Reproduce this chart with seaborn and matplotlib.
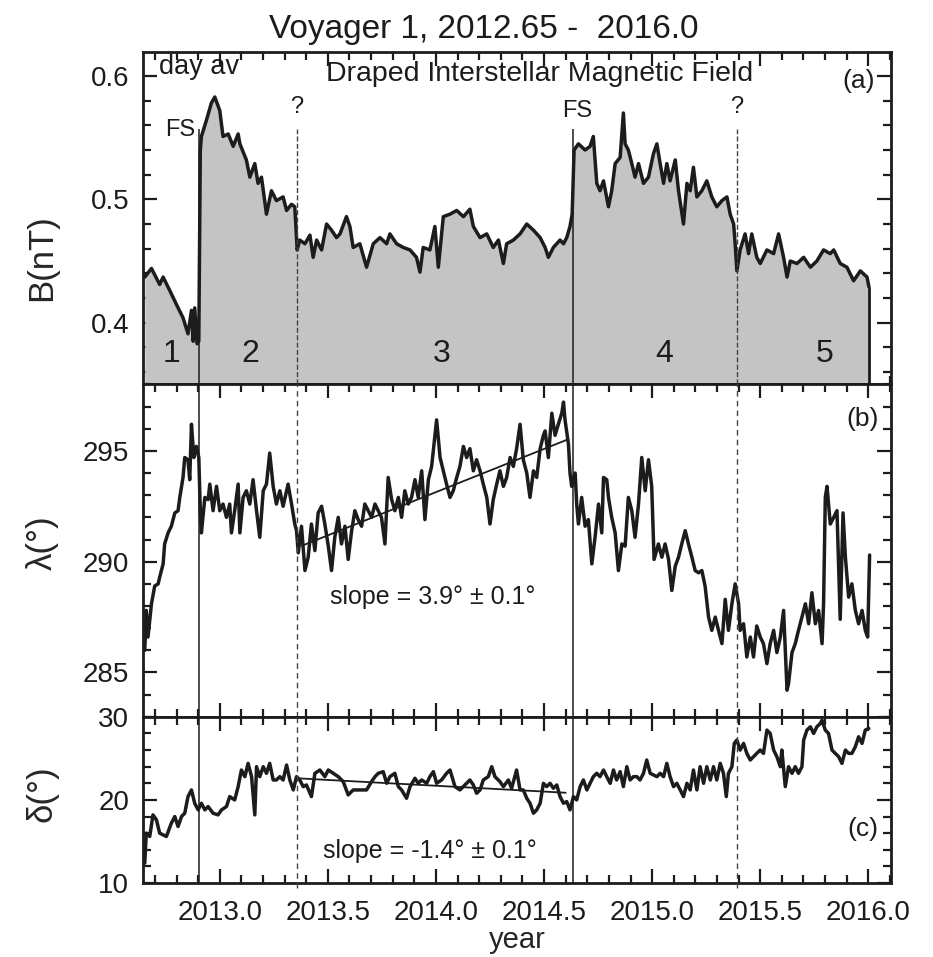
import numpy as np
import matplotlib
matplotlib.use("Agg")
import matplotlib.pyplot as plt
from matplotlib.ticker import MultipleLocator, FormatStrFormatter
import seaborn as sns

# ---------------- data: daily averages, Voyager 1 ----------------
# (a) magnetic field strength B (nT)
b_year = [
    2012.653, 2012.684, 2012.722, 2012.738, 2012.769, 2012.799, 2012.830, 2012.853,
    2012.869, 2012.877, 2012.884, 2012.895, 2012.903, 2012.910, 2012.915, 2012.938,
    2012.961, 2012.977, 2013.000, 2013.015, 2013.039, 2013.062, 2013.085, 2013.093,
    2013.123, 2013.139, 2013.162, 2013.177, 2013.193, 2013.216, 2013.239, 2013.262,
    2013.293, 2013.309, 2013.332, 2013.347, 2013.358, 2013.370, 2013.394, 2013.417,
    2013.432, 2013.448, 2013.471, 2013.494, 2013.517, 2013.540, 2013.556, 2013.586,
    2013.602, 2013.617, 2013.648, 2013.679, 2013.710, 2013.741, 2013.772, 2013.787,
    2013.818, 2013.849, 2013.880, 2013.910, 2013.926, 2013.941, 2013.972, 2013.995,
    2014.011, 2014.034, 2014.065, 2014.096, 2014.127, 2014.157, 2014.173, 2014.204,
    2014.235, 2014.265, 2014.289, 2014.312, 2014.327, 2014.358, 2014.389, 2014.420,
    2014.451, 2014.482, 2014.505, 2014.520, 2014.543, 2014.574, 2014.590, 2014.605,
    2014.620, 2014.630, 2014.639, 2014.659, 2014.690, 2014.713, 2014.728, 2014.744,
    2014.759, 2014.775, 2014.798, 2014.813, 2014.829, 2014.852, 2014.867, 2014.875,
    2014.890, 2014.906, 2014.921, 2014.937, 2014.960, 2014.983, 2015.006, 2015.022,
    2015.037, 2015.053, 2015.068, 2015.083, 2015.107, 2015.122, 2015.145, 2015.161,
    2015.176, 2015.191, 2015.207, 2015.230, 2015.253, 2015.276, 2015.299, 2015.323,
    2015.346, 2015.361, 2015.377, 2015.384, 2015.392, 2015.407, 2015.430, 2015.446,
    2015.461, 2015.484, 2015.500, 2015.531, 2015.562, 2015.585, 2015.608, 2015.624,
    2015.639, 2015.670, 2015.701, 2015.732, 2015.762, 2015.793, 2015.824, 2015.840,
    2015.870, 2015.901, 2015.932, 2015.963, 2015.994, 2016.003,
]
b_nt = [
    0.437, 0.444, 0.431, 0.437, 0.426, 0.415, 0.404, 0.391,
    0.410, 0.385, 0.412, 0.383, 0.385, 0.540, 0.551, 0.564,
    0.578, 0.583, 0.572, 0.551, 0.553, 0.543, 0.553, 0.545,
    0.532, 0.518, 0.529, 0.513, 0.518, 0.488, 0.507, 0.499,
    0.502, 0.491, 0.496, 0.494, 0.459, 0.467, 0.464, 0.471,
    0.453, 0.467, 0.459, 0.480, 0.475, 0.469, 0.472, 0.486,
    0.478, 0.461, 0.464, 0.445, 0.464, 0.469, 0.464, 0.472,
    0.464, 0.461, 0.459, 0.453, 0.441, 0.461, 0.459, 0.478,
    0.445, 0.486, 0.488, 0.491, 0.486, 0.492, 0.478, 0.469,
    0.472, 0.461, 0.467, 0.448, 0.464, 0.467, 0.472, 0.480,
    0.475, 0.469, 0.461, 0.453, 0.461, 0.467, 0.464, 0.469,
    0.478, 0.488, 0.540, 0.545, 0.540, 0.543, 0.551, 0.513,
    0.507, 0.515, 0.494, 0.507, 0.529, 0.534, 0.570, 0.545,
    0.540, 0.529, 0.518, 0.529, 0.513, 0.518, 0.537, 0.545,
    0.529, 0.513, 0.529, 0.515, 0.532, 0.507, 0.480, 0.513,
    0.507, 0.526, 0.502, 0.507, 0.515, 0.502, 0.494, 0.499,
    0.502, 0.488, 0.480, 0.464, 0.442, 0.459, 0.472, 0.456,
    0.472, 0.453, 0.448, 0.459, 0.456, 0.472, 0.453, 0.437,
    0.450, 0.448, 0.453, 0.445, 0.450, 0.459, 0.456, 0.459,
    0.448, 0.445, 0.434, 0.442, 0.437, 0.429,
]

# (b) azimuth angle lambda (deg)
lam_year = [
    2012.653, 2012.660, 2012.668, 2012.684, 2012.699, 2012.715, 2012.722, 2012.738,
    2012.745, 2012.761, 2012.776, 2012.792, 2012.807, 2012.815, 2012.830, 2012.838,
    2012.853, 2012.861, 2012.869, 2012.880, 2012.892, 2012.903, 2012.910, 2012.915,
    2012.931, 2012.946, 2012.954, 2012.969, 2012.985, 2013.000, 2013.015, 2013.031,
    2013.046, 2013.054, 2013.069, 2013.085, 2013.093, 2013.108, 2013.123, 2013.139,
    2013.154, 2013.170, 2013.185, 2013.201, 2013.216, 2013.231, 2013.247, 2013.262,
    2013.278, 2013.293, 2013.316, 2013.332, 2013.347, 2013.355, 2013.363, 2013.378,
    2013.394, 2013.409, 2013.424, 2013.440, 2013.455, 2013.471, 2013.486, 2013.502,
    2013.517, 2013.532, 2013.548, 2013.563, 2013.579, 2013.594, 2013.610, 2013.625,
    2013.640, 2013.656, 2013.671, 2013.687, 2013.702, 2013.718, 2013.733, 2013.748,
    2013.764, 2013.779, 2013.795, 2013.810, 2013.826, 2013.841, 2013.856, 2013.872,
    2013.887, 2013.903, 2013.918, 2013.934, 2013.949, 2013.965, 2013.980, 2014.003,
    2014.019, 2014.034, 2014.049, 2014.065, 2014.080, 2014.096, 2014.111, 2014.127,
    2014.142, 2014.157, 2014.173, 2014.188, 2014.204, 2014.219, 2014.235, 2014.250,
    2014.265, 2014.281, 2014.296, 2014.312, 2014.327, 2014.343, 2014.358, 2014.373,
    2014.389, 2014.404, 2014.420, 2014.435, 2014.451, 2014.466, 2014.482, 2014.497,
    2014.505, 2014.520, 2014.536, 2014.551, 2014.566, 2014.582, 2014.590, 2014.597,
    2014.613, 2014.620, 2014.628, 2014.644, 2014.651, 2014.659, 2014.674, 2014.690,
    2014.705, 2014.721, 2014.736, 2014.752, 2014.767, 2014.775, 2014.790, 2014.798,
    2014.813, 2014.829, 2014.844, 2014.860, 2014.875, 2014.890, 2014.906, 2014.921,
    2014.937, 2014.952, 2014.968, 2014.983, 2014.998, 2015.009, 2015.029, 2015.045,
    2015.060, 2015.076, 2015.091, 2015.107, 2015.122, 2015.137, 2015.153, 2015.168,
    2015.184, 2015.199, 2015.215, 2015.230, 2015.245, 2015.261, 2015.276, 2015.292,
    2015.307, 2015.323, 2015.338, 2015.353, 2015.369, 2015.384, 2015.400, 2015.407,
    2015.423, 2015.438, 2015.454, 2015.469, 2015.484, 2015.500, 2015.515, 2015.531,
    2015.546, 2015.562, 2015.577, 2015.593, 2015.608, 2015.624, 2015.631, 2015.647,
    2015.662, 2015.677, 2015.693, 2015.709, 2015.724, 2015.739, 2015.755, 2015.770,
    2015.786, 2015.793, 2015.801, 2015.809, 2015.824, 2015.840, 2015.855, 2015.870,
    2015.883, 2015.894, 2015.909, 2015.924, 2015.940, 2015.955, 2015.971, 2015.986,
    2015.997, 2016.006,
]
lam_deg = [
    286.0, 287.8, 286.6, 288.1, 288.9, 289.0, 289.3, 289.9,
    290.8, 291.3, 291.6, 292.2, 292.3, 292.9, 293.8, 294.7,
    294.6, 293.7, 296.2, 294.7, 295.2, 294.7, 292.3, 291.3,
    292.9, 292.8, 293.5, 292.3, 293.4, 292.3, 292.6, 292.0,
    292.6, 291.3, 292.3, 293.5, 291.3, 292.9, 293.2, 292.6,
    293.7, 292.3, 291.1, 293.2, 293.5, 294.9, 293.4, 292.6,
    293.2, 292.5, 293.5, 292.6, 291.7, 291.4, 290.4, 291.6,
    289.6, 290.2, 291.7, 290.5, 292.2, 292.5, 291.7, 290.7,
    289.6, 291.1, 292.0, 290.8, 291.6, 290.1, 291.4, 292.3,
    291.9, 291.6, 292.6, 292.3, 292.0, 292.6, 292.3, 292.0,
    290.8, 293.8, 292.8, 292.3, 292.9, 292.0, 293.2, 292.6,
    292.9, 293.7, 292.9, 294.1, 291.9, 293.7, 294.3, 296.4,
    294.7, 294.1, 293.5, 292.9, 293.2, 293.8, 294.3, 295.2,
    294.7, 295.1, 294.1, 294.6, 294.1, 293.5, 292.9, 291.7,
    292.8, 293.5, 294.1, 293.4, 293.8, 294.7, 294.3, 295.1,
    296.2, 294.6, 294.0, 292.9, 294.1, 293.8, 295.1, 295.7,
    295.9, 294.7, 296.7, 295.7, 296.2, 296.7, 297.2, 296.4,
    295.3, 294.0, 293.4, 294.0, 292.6, 291.7, 292.9, 291.6,
    291.9, 289.9, 291.1, 292.6, 291.3, 293.8, 293.7, 292.9,
    292.0, 291.3, 289.6, 290.8, 290.7, 292.9, 292.3, 291.1,
    292.6, 294.7, 293.2, 294.6, 293.4, 290.1, 290.8, 290.2,
    290.8, 290.1, 288.7, 289.8, 290.2, 290.8, 291.4, 290.8,
    290.2, 289.6, 289.5, 289.6, 288.9, 287.5, 286.9, 287.5,
    286.9, 286.3, 288.3, 286.9, 288.1, 289.0, 288.1, 286.9,
    287.2, 285.7, 286.6, 285.7, 287.1, 286.6, 286.3, 285.4,
    286.3, 286.9, 285.9, 286.6, 287.8, 284.2, 284.5, 285.9,
    286.3, 286.9, 287.5, 288.1, 287.2, 288.6, 287.2, 287.8,
    286.3, 288.1, 292.9, 293.4, 291.7, 292.0, 292.3, 287.4,
    292.2, 290.2, 288.4, 289.0, 287.8, 287.2, 287.8, 286.9,
    286.6, 290.3,
]

# (c) elevation angle delta (deg)
del_year = [
    2012.653, 2012.660, 2012.676, 2012.691, 2012.707, 2012.722, 2012.738, 2012.753,
    2012.776, 2012.792, 2012.807, 2012.823, 2012.838, 2012.853, 2012.869, 2012.884,
    2012.900, 2012.915, 2012.931, 2012.946, 2012.969, 2012.992, 2013.008, 2013.031,
    2013.046, 2013.069, 2013.085, 2013.100, 2013.116, 2013.131, 2013.147, 2013.162,
    2013.170, 2013.185, 2013.201, 2013.216, 2013.231, 2013.247, 2013.262, 2013.278,
    2013.293, 2013.309, 2013.324, 2013.340, 2013.355, 2013.370, 2013.386, 2013.401,
    2013.424, 2013.440, 2013.463, 2013.486, 2013.502, 2013.525, 2013.548, 2013.571,
    2013.594, 2013.617, 2013.648, 2013.679, 2013.702, 2013.718, 2013.733, 2013.756,
    2013.772, 2013.787, 2013.810, 2013.826, 2013.841, 2013.864, 2013.880, 2013.903,
    2013.918, 2013.934, 2013.957, 2013.972, 2013.988, 2014.003, 2014.026, 2014.049,
    2014.065, 2014.088, 2014.111, 2014.134, 2014.157, 2014.173, 2014.188, 2014.204,
    2014.219, 2014.242, 2014.258, 2014.273, 2014.296, 2014.312, 2014.335, 2014.350,
    2014.373, 2014.389, 2014.404, 2014.420, 2014.435, 2014.451, 2014.466, 2014.482,
    2014.497, 2014.512, 2014.528, 2014.543, 2014.559, 2014.574, 2014.590, 2014.605,
    2014.620, 2014.636, 2014.651, 2014.667, 2014.682, 2014.698, 2014.713, 2014.728,
    2014.744, 2014.759, 2014.775, 2014.790, 2014.806, 2014.821, 2014.836, 2014.852,
    2014.867, 2014.883, 2014.898, 2014.914, 2014.929, 2014.944, 2014.960, 2014.975,
    2014.991, 2015.006, 2015.022, 2015.037, 2015.053, 2015.068, 2015.083, 2015.099,
    2015.114, 2015.130, 2015.145, 2015.161, 2015.176, 2015.191, 2015.207, 2015.222,
    2015.238, 2015.253, 2015.269, 2015.284, 2015.299, 2015.315, 2015.330, 2015.343,
    2015.353, 2015.369, 2015.380, 2015.392, 2015.407, 2015.423, 2015.438, 2015.454,
    2015.469, 2015.484, 2015.500, 2015.515, 2015.531, 2015.546, 2015.562, 2015.577,
    2015.593, 2015.600, 2015.616, 2015.631, 2015.647, 2015.662, 2015.677, 2015.693,
    2015.701, 2015.716, 2015.732, 2015.747, 2015.762, 2015.778, 2015.786, 2015.801,
    2015.816, 2015.832, 2015.847, 2015.863, 2015.878, 2015.894, 2015.909, 2015.924,
    2015.940, 2015.955, 2015.971, 2015.986, 2016.002,
]
del_deg = [
    12.4, 16.0, 15.6, 18.2, 17.6, 16.0, 15.8, 15.6,
    17.2, 18.0, 16.8, 18.0, 18.4, 20.4, 21.2, 19.6,
    18.8, 19.6, 18.8, 19.2, 18.4, 18.2, 18.8, 19.2,
    20.4, 20.0, 21.6, 23.6, 22.8, 24.4, 22.8, 18.2,
    24.0, 22.8, 24.0, 23.2, 24.4, 22.4, 22.4, 22.8,
    22.4, 24.2, 22.4, 21.2, 22.8, 22.4, 21.6, 21.8,
    20.4, 23.2, 23.6, 22.8, 23.6, 23.2, 22.8, 22.2,
    20.6, 21.2, 21.2, 21.2, 22.2, 22.8, 23.2, 23.4,
    22.0, 22.8, 23.2, 21.6, 21.2, 20.2, 21.6, 22.6,
    22.0, 22.4, 22.0, 22.8, 23.4, 22.0, 22.4, 23.2,
    23.6, 21.6, 21.2, 21.8, 22.4, 21.8, 20.8, 21.2,
    22.4, 22.8, 24.0, 22.8, 22.2, 21.6, 22.4, 21.4,
    23.6, 21.2, 21.2, 20.2, 19.6, 18.4, 18.8, 19.6,
    22.0, 21.6, 22.0, 21.4, 21.8, 20.4, 19.6, 19.8,
    18.8, 20.4, 20.0, 21.6, 22.4, 21.2, 22.0, 22.8,
    23.2, 22.8, 23.6, 22.8, 22.0, 23.6, 22.4, 23.4,
    21.6, 24.0, 22.4, 22.8, 22.8, 22.4, 23.2, 24.8,
    23.2, 23.0, 22.8, 23.2, 22.8, 24.4, 22.8, 21.6,
    22.0, 21.2, 20.4, 22.0, 21.2, 23.6, 21.2, 24.0,
    22.0, 24.0, 22.4, 24.0, 22.4, 24.4, 23.2, 20.4,
    23.2, 24.0, 26.8, 27.2, 26.0, 26.8, 25.6, 24.8,
    25.2, 25.6, 26.0, 25.6, 28.4, 28.0, 26.0, 25.2,
    24.0, 26.0, 21.6, 24.0, 23.2, 24.0, 23.2, 24.0,
    27.2, 28.4, 28.8, 28.0, 28.8, 29.2, 29.6, 28.4,
    28.0, 26.0, 25.6, 25.2, 24.4, 26.0, 25.6, 25.6,
    26.4, 27.6, 26.8, 28.4, 28.6,
]

# boundaries: jumps in B (FS) and uncertain transitions (?)
fs_years = [2012.903, 2014.633]
q_years = [2013.357, 2015.392]
region_labels = ["1", "2", "3", "4", "5"]
region_years = [2012.778, 2013.143, 2014.028, 2015.056, 2015.796]

# linear fits in region 3
lam_fit_years = [2013.38, 2014.61]
lam_fit_start = 290.72
lam_slope, lam_err = 3.9, 0.1
del_fit_years = [2013.36, 2014.60]
del_fit_start = 22.6
del_slope, del_err = -1.4, 0.1

# ---------------- style ----------------
sns.set_style("ticks")
plt.rcParams["font.family"] = ["Liberation Sans", "DejaVu Sans"]
plt.rcParams["axes.linewidth"] = 2.0

INK = "#1c1c1c"
FILL = "#c4c4c4"

fig = plt.figure(figsize=(9.33, 9.57), dpi=100)
gs = fig.add_gridspec(3, 1, height_ratios=[2, 2, 1], hspace=0,
                      left=0.1533, right=0.955, top=0.9457, bottom=0.0773)
ax_b = fig.add_subplot(gs[0])
ax_l = fig.add_subplot(gs[1], sharex=ax_b)
ax_d = fig.add_subplot(gs[2], sharex=ax_b)
axes = [ax_b, ax_l, ax_d]

TICK_FS = 20
for ax in axes:
    ax.set_xlim(2012.645, 2016.105)
    ax.xaxis.set_major_locator(MultipleLocator(0.5))
    ax.xaxis.set_minor_locator(MultipleLocator(0.1))
    ax.tick_params(which="both", direction="in", top=True, right=True,
                   width=1.6, colors=INK, labelsize=TICK_FS)
    ax.tick_params(which="major", length=10)
    ax.tick_params(which="minor", length=5.5)
    ax.tick_params(axis="y", pad=10)
    for s in ax.spines.values():
        s.set_color(INK)
for ax in axes[:2]:
    ax.tick_params(labelbottom=False)
ax_d.tick_params(axis="x", pad=12)
ax_d.xaxis.set_major_formatter(FormatStrFormatter("%.1f"))

LW = 2.5

# ---------------- (a) B ----------------
ax_b.set_ylim(0.35, 0.6195)
ax_b.yaxis.set_major_locator(MultipleLocator(0.1))
ax_b.yaxis.set_minor_locator(MultipleLocator(0.02))
ax_b.yaxis.set_major_formatter(FormatStrFormatter("%.1f"))
ax_b.fill_between(b_year, b_nt, 0.35, color=FILL, lw=0, zorder=1)
sns.lineplot(x=b_year, y=b_nt, ax=ax_b, color=INK, lw=LW,
             estimator=None, sort=False, zorder=3)
ax_b.vlines(b_year[-1], 0.35, b_nt[-1], color=INK, lw=2.0, zorder=3)

# ---------------- (b) lambda ----------------
ax_l.set_ylim(283.0, 298.0)
ax_l.yaxis.set_major_locator(MultipleLocator(5))
ax_l.yaxis.set_minor_locator(MultipleLocator(1))
sns.lineplot(x=lam_year, y=lam_deg, ax=ax_l, color=INK, lw=LW,
             estimator=None, sort=False, zorder=3)
lam_fit = [lam_fit_start + lam_slope * (y - lam_fit_years[0]) for y in lam_fit_years]
ax_l.plot(lam_fit_years, lam_fit, color=INK, lw=1.3, zorder=4)

# ---------------- (c) delta ----------------
ax_d.set_ylim(10, 30)
ax_d.yaxis.set_major_locator(MultipleLocator(10))
ax_d.yaxis.set_minor_locator(MultipleLocator(2))
sns.lineplot(x=del_year, y=del_deg, ax=ax_d, color=INK, lw=LW,
             estimator=None, sort=False, zorder=3)
del_fit = [del_fit_start + del_slope * (y - del_fit_years[0]) for y in del_fit_years]
ax_d.plot(del_fit_years, del_fit, color=INK, lw=1.3, zorder=4)

# ---------------- boundary lines ----------------
b_line_top = 0.557
for x in fs_years:
    ax_b.vlines(x, 0.35, b_line_top, color=INK, lw=1.1, zorder=4)
    ax_l.axvline(x, color=INK, lw=1.1, zorder=4)
    ax_d.axvline(x, color=INK, lw=1.1, zorder=4)
for x in q_years:
    kw = dict(color="#444444", lw=1.0, dashes=(4, 3), zorder=4)
    ax_b.vlines(x, 0.35, b_line_top, linestyles="--", color="#444444", lw=1.0, zorder=4)
    ax_l.axvline(x, **kw)
    ax_d.axvline(x, ymin=-0.03, ymax=1, clip_on=False, **kw)

# ---------------- labels and annotations ----------------
ax_b.set_ylabel("B(nT)", fontsize=25)
ax_l.set_ylabel("\u03bb(\u00b0)", fontsize=25)
ax_d.set_ylabel("\u03b4(\u00b0)", fontsize=25)
ax_b.yaxis.set_label_coords(-0.113, 0.38)
ax_l.yaxis.set_label_coords(-0.113, 0.525)
ax_d.yaxis.set_label_coords(-0.113, 0.54)
ax_d.set_xlabel("year", fontsize=21, labelpad=0)

ANN = 19
ax_b.text(2012.72, 0.607, "day av", fontsize=19.5, ha="left", va="center", color=INK)
ax_b.text(2014.48, 0.602, "Draped Interstellar Magnetic Field", fontsize=20.5,
          ha="center", va="center", color=INK)
ax_b.text(2015.954, 0.596, "(a)", fontsize=ANN, ha="center", va="center", color=INK)
ax_b.text(fs_years[0] - 0.015, 0.556, "FS", fontsize=17, ha="right", va="center", color=INK)
ax_b.text(fs_years[1] + 0.02, 0.572, "FS", fontsize=17, ha="center", va="center", color=INK)
for x in q_years:
    ax_b.text(x, 0.575, "?", fontsize=17, ha="center", va="center", color=INK)
for lab, x in zip(region_labels, region_years):
    ax_b.text(x, 0.375, lab, fontsize=23, ha="center", va="center", color=INK)

ax_l.text(2015.972, 296.44, "(b)", fontsize=ANN, ha="center", va="center", color=INK)
ax_l.text(2013.986, 288.42,
          f"slope = {lam_slope:.1f}\u00b0 \u00b1 {lam_err:.1f}\u00b0",
          fontsize=18, ha="center", va="center", color=INK)
ax_d.text(2015.977, 16.5, "(c)", fontsize=ANN, ha="center", va="center", color=INK)
ax_d.text(2013.972, 13.9,
          f"slope = {del_slope:.1f}\u00b0 \u00b1 {del_err:.1f}\u00b0",
          fontsize=18, ha="center", va="center", color=INK)

fig.text(0.519, 0.969, "Voyager 1, 2012.65 -  2016.0", fontsize=24,
         ha="center", va="center", color=INK)

fig.savefig("out.png", dpi=100)
